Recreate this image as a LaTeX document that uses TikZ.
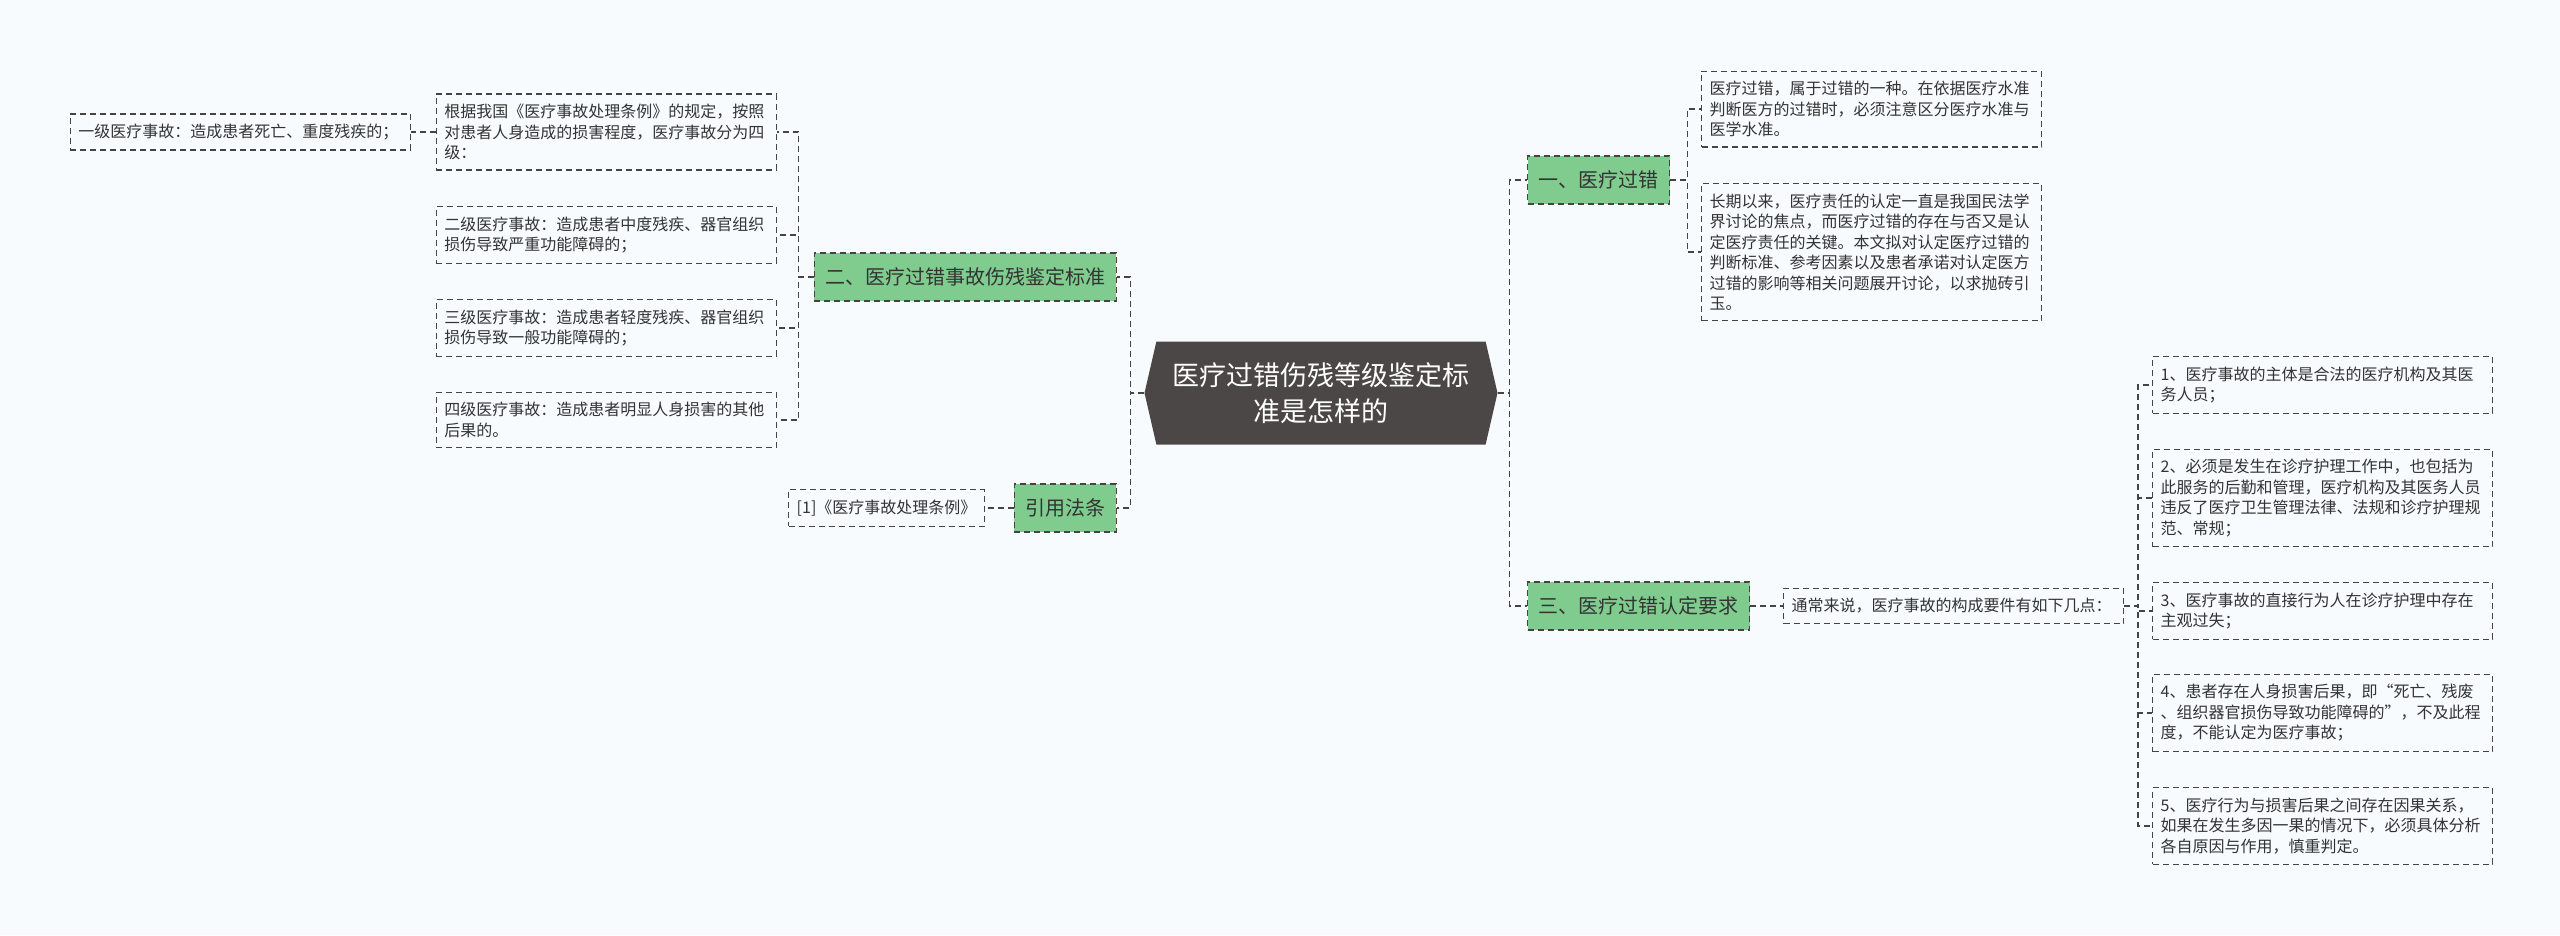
\documentclass[tikz,border=0pt]{standalone}
\usepackage{fontspec}
\setmainfont{Noto Sans CJK SC}
\usetikzlibrary{shapes.symbols}

\definecolor{bgcol}{RGB}{247,251,253}
\definecolor{rootcol}{RGB}{75,71,71}
\definecolor{topiccol}{RGB}{128,203,142}
\definecolor{linecol}{RGB}{68,68,68}
\definecolor{txtcol}{RGB}{51,51,51}

\tikzset{
  link/.style={draw=linecol, line width=1.5pt, dash pattern=on 6pt off 4pt},
  rootnode/.style={signal, signal to=east and west, signal pointer angle=154,
    fill=rootcol, text=white, font=\fontsize{27}{36}\selectfont, align=center,
    minimum width=353pt, minimum height=103pt, inner sep=0pt},
  topic/.style={draw=linecol, line width=1.3pt, dash pattern=on 6pt off 4pt,
    fill=topiccol, text=txtcol, font=\fontsize{20}{24}\selectfont,
    inner xsep=11pt, minimum height=48pt},
  notebox/.style={draw=linecol, line width=1.2pt, dash pattern=on 6pt off 4pt,
    text=txtcol, font=\fontsize{16}{20.5}\selectfont, align=left,
    inner xsep=8pt, inner ysep=10pt},
  leaf/.style={notebox, text width=324pt}
}

\begin{document}
\begin{tikzpicture}[x=1pt,y=-1pt]
\path[use as bounding box, fill=bgcol] (0,0) rectangle (2560,935);

\node[rootnode] (root) at (1321,393) {医疗过错伤残等级鉴定标\\准是怎样的};

\node[topic, anchor=west] (n1) at (1527,180) {一、医疗过错};
\node[topic, anchor=east] (n2) at (1117,277) {二、医疗过错事故伤残鉴定标准};
\node[topic, anchor=west] (n3) at (1527,606) {三、医疗过错认定要求};
\node[topic, anchor=east] (n4) at (1117,508) {引用法条};

\node[leaf, anchor=west] (a1) at (1701,109) {医疗过错，属于过错的一种。在依据医疗水准\\判断医方的过错时，必须注意区分医疗水准与\\医学水准。};
\node[leaf, anchor=west] (a2) at (1701,252) {长期以来，医疗责任的认定一直是我国民法学\\界讨论的焦点，而医疗过错的存在与否又是认\\定医疗责任的关键。本文拟对认定医疗过错的\\判断标准、参考因素以及患者承诺对认定医方\\过错的影响等相关问题展开讨论，以求抛砖引\\玉。};

\node[leaf, anchor=east] (l1) at (777,132) {根据我国《医疗事故处理条例》的规定，按照\\对患者人身造成的损害程度，医疗事故分为四\\级：};
\node[leaf, anchor=east] (l2) at (777,235) {二级医疗事故：造成患者中度残疾、器官组织\\损伤导致严重功能障碍的；};
\node[leaf, anchor=east] (l3) at (777,328) {三级医疗事故：造成患者轻度残疾、器官组织\\损伤导致一般功能障碍的；};
\node[leaf, anchor=east] (l4) at (777,420) {四级医疗事故：造成患者明显人身损害的其他\\后果的。};
\node[leaf, anchor=east] (l0) at (411,132) {一级医疗事故：造成患者死亡、重度残疾的；};

\node[notebox, anchor=east] (ref) at (985,508) {[1]《医疗事故处理条例》};

\node[leaf, anchor=west] (b1) at (1783,606) {通常来说，医疗事故的构成要件有如下几点：};
\node[leaf, anchor=west] (r1) at (2152,385) {1、医疗事故的主体是合法的医疗机构及其医\\务人员；};
\node[leaf, anchor=west] (r2) at (2152,498) {2、必须是发生在诊疗护理工作中，也包括为\\此服务的后勤和管理，医疗机构及其医务人员\\违反了医疗卫生管理法律、法规和诊疗护理规\\范、常规；};
\node[leaf, anchor=west] (r3) at (2152,611) {3、医疗事故的直接行为人在诊疗护理中存在\\主观过失；};
\node[leaf, anchor=west] (r4) at (2152,713) {4、患者存在人身损害后果，即“死亡、残废\\、组织器官损伤导致功能障碍的”，不及此程\\度，不能认定为医疗事故；};
\node[leaf, anchor=west] (r5) at (2152,826) {5、医疗行为与损害后果之间存在因果关系，\\如果在发生多因一果的情况下，必须具体分析\\各自原因与作用，慎重判定。};

\draw[link] (root.west) -- ++(-14,0) |- (n2.east);
\draw[link] (root.west) -- ++(-14,0) |- (n4.east);
\draw[link] (root.east) -- ++(12,0) |- (n1.west);
\draw[link] (root.east) -- ++(12,0) |- (n3.west);
\foreach \b in {a1,a2}
  \draw[link] (n1.east) -- ++(17,0) |- (\b.west);
\foreach \i in {1,...,4}
  \draw[link] (n2.west) -- ++(-15,0) |- (l\i.east);
\draw[link] (l1.west) -- (l0.east);
\draw[link] (n4.west) -- (ref.east);
\draw[link] (n3.east) -- (b1.west);
\foreach \i in {1,...,5}
  \draw[link] (b1.east) -- ++(14,0) |- (r\i.west);
\end{tikzpicture}
\end{document}
